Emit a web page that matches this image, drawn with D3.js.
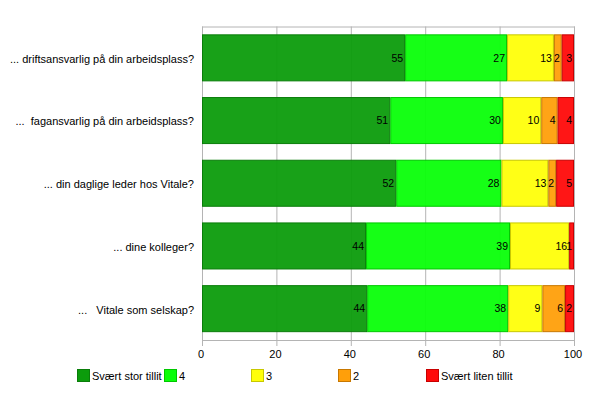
<!DOCTYPE html>
<html><head><meta charset="utf-8">
<script src="https://cdn.jsdelivr.net/npm/d3@7"></script>
<style>body{margin:0;background:#fff}svg{display:block}text{font-family:"Liberation Sans",Arial,sans-serif}</style>
</head><body><svg id="c" width="600" height="400"></svg>
<script>
const categories = [
  "... driftsansvarlig på din arbeidsplass?",
  "...  fagansvarlig på din arbeidsplass?",
  "... din daglige leder hos Vitale?",
  "... dine kolleger?",
  "...   Vitale som selskap?"
];
const seriesNames = ["Svært stor tillit", "4", "3", "2", "Svært liten tillit"];
const s5 = [54.6, 50.6, 52.2, 44.1, 44.4];
const s4 = [27.4, 30.3, 28.3, 38.7, 37.9];
const s3 = [12.6, 10.3, 12.6, 15.9, 9.2];
const s2 = [2.1, 4.4, 2.1, 0, 6.1];
const s1 = [3.3, 4.4, 4.8, 1.3, 2.4];
const xTicks = [0, 20, 40, 60, 80, 100];
const fills = ["#0c9c0c", "#0aff0a", "#ffff0a", "#ff9f0a", "#ff0a0a"];
const strokes = ["#0a7d0a", "#00c800", "#c8c800", "#c87800", "#c80000"];

const series = [s5, s4, s3, s2, s1];
const svg = d3.select("#c");
const L = 202, R = 574, T = 26.5, B = 340;
const x = d3.scaleLinear().domain([0, 100]).range([L, R]);
const y = d3.scaleBand().domain(d3.range(categories.length)).range([T, B]).paddingInner(0.25).paddingOuter(0.125);

// gridlines
svg.append("g").selectAll("line").data(xTicks).join("line")
  .attr("x1", d => x(d) + 0.5).attr("x2", d => x(d) + 0.5)
  .attr("y1", T).attr("y2", B + 6)
  .attr("stroke", "#b4b4b4").attr("stroke-width", 1);
svg.append("line").attr("x1", L).attr("x2", R + 1).attr("y1", T + 0.5).attr("y2", T + 0.5).attr("stroke", "#b4b4b4");
svg.append("line").attr("x1", L).attr("x2", R + 1).attr("y1", B + 0.5).attr("y2", B + 0.5).attr("stroke", "#b4b4b4");

// stacked bars
const rows = categories.map((c, i) => {
  let acc = 0;
  return series.map((s, k) => { const v = s[i]; const seg = {i, k, x0: acc, x1: acc + v, v}; acc += v; return seg; });
});
const g = svg.append("g");
rows.forEach(r => {
  g.selectAll(null).data(r.filter(d => d.v > 0)).join("rect")
    .attr("x", d => x(d.x0) + 0.5).attr("width", d => x(d.x1) - x(d.x0) - 1)
    .attr("y", d => y(d.i) + 0.5).attr("height", y.bandwidth() - 1)
    .attr("fill", d => fills[d.k]).attr("fill-opacity", 0.95)
    .attr("stroke", d => strokes[d.k]).attr("stroke-width", 1);
  g.selectAll(null).data(r.filter(d => d.v > 0)).join("text")
    .attr("x", d => x(d.x1) - 2).attr("y", d => y(d.i) + y.bandwidth() / 2)
    .attr("dy", "0.35em").attr("text-anchor", "end")
    .attr("font-size", 10.5).attr("fill", "#000")
    .text(d => Math.round(d.v));
});

// category labels
svg.append("g").selectAll("text").data(categories).join("text")
  .attr("x", 194).attr("y", (d, i) => y(i) + y.bandwidth() / 2 + 1)
  .attr("dy", "0.35em").attr("text-anchor", "end")
  .attr("font-size", 11).style("white-space", "pre").attr("fill", "#000")
  .text(d => d);

// x tick labels
svg.append("g").selectAll("text").data(xTicks).join("text")
  .attr("x", d => x(d) - 1).attr("y", 358)
  .attr("text-anchor", "middle").attr("font-size", 11).attr("fill", "#000")
  .text(d => d);

// legend
const legX = [77, 164, 251, 338, 426];
const lg = svg.append("g").selectAll("g").data(seriesNames).join("g")
  .attr("transform", (d, k) => `translate(${legX[k]},369)`);
lg.append("rect").attr("x", 0.5).attr("y", 0.5).attr("width", 12).attr("height", 12)
  .attr("fill", (d, k) => fills[k]).attr("stroke", (d, k) => strokes[k]);
lg.append("text").attr("x", 15).attr("y", 11).attr("font-size", 11).attr("fill", "#000").text(d => d);
</script></body></html>
